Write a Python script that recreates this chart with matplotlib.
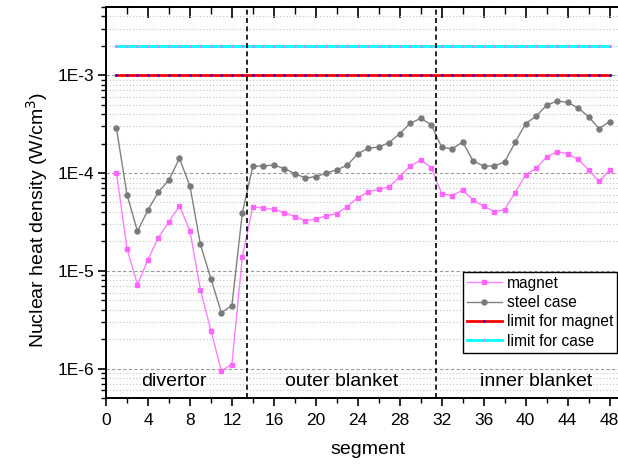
import math
import matplotlib
matplotlib.use("Agg")
import matplotlib.pyplot as plt
from matplotlib.ticker import LogLocator, MultipleLocator, NullFormatter, FixedLocator

plt.rcParams['font.family'] = ['Liberation Sans', 'DejaVu Sans']

# segments 1..48
segment = list(range(1, 49))

magnet = [1.01e-4, 1.69e-5, 7.2e-6, 1.30e-5, 2.19e-5, 3.19e-5, 4.61e-5, 2.58e-5,
          6.4e-6, 2.45e-6, 9.5e-7, 1.10e-6, 1.40e-5, 4.54e-5, 4.36e-5, 4.26e-5,
          3.94e-5, 3.59e-5, 3.27e-5, 3.37e-5, 3.67e-5, 3.85e-5, 4.54e-5, 5.61e-5,
          6.41e-5, 6.83e-5, 7.21e-5, 9.2e-5, 1.18e-4, 1.36e-4, 1.14e-4, 6.17e-5,
          5.88e-5, 6.67e-5, 5.31e-5, 4.58e-5, 4.04e-5, 4.23e-5, 6.31e-5, 9.57e-5,
          1.12e-4, 1.46e-4, 1.66e-4, 1.58e-4, 1.38e-4, 1.08e-4, 8.2e-5, 1.07e-4]

steel_case = [2.87e-4, 6.0e-5, 2.54e-5, 4.2e-5, 6.4e-5, 8.5e-5, 1.41e-4, 7.4e-5,
              1.86e-5, 8.3e-6, 3.74e-6, 4.4e-6, 3.94e-5, 1.18e-4, 1.18e-4, 1.21e-4,
              1.11e-4, 9.9e-5, 8.9e-5, 9.2e-5, 1.0e-4, 1.08e-4, 1.20e-4, 1.58e-4,
              1.79e-4, 1.85e-4, 2.05e-4, 2.53e-4, 3.23e-4, 3.63e-4, 3.13e-4, 1.84e-4,
              1.77e-4, 2.08e-4, 1.33e-4, 1.18e-4, 1.18e-4, 1.30e-4, 2.06e-4, 3.21e-4,
              3.81e-4, 4.94e-4, 5.46e-4, 5.29e-4, 4.64e-4, 3.78e-4, 2.85e-4, 3.36e-4]

limit_magnet = 1e-3
limit_case = 2e-3

region_names = ['divertor', 'outer blanket', 'inner blanket']
region_centers = [6.5, 22.5, 41.0]
region_borders = [13.4, 31.45]

fig = plt.figure(figsize=(6.18, 4.71), dpi=100)
# axes run slightly past the right edge of the figure, as in the original crop
ax = fig.add_axes([106/618, 73/471, 524.5/618, 391/471])

ax.set_yscale('log')
ax.set_xlim(0, 50)
ax.set_ylim(5e-7, 5e-3)

# grid lines
ax.grid(which='major', axis='y', color='#9a9a9a', linestyle=(0, (3, 2)), linewidth=0.8)
ax.grid(which='minor', axis='y', color='#c4c4c4', linestyle=(0, (1, 2)), linewidth=0.8)
ax.grid(which='both', axis='x', visible=False)

ax.plot(segment, magnet, color='#ff80ff', lw=1.0, marker='s', ms=3.2,
        mfc='#ff66ff', mec='#ff66ff', label='magnet', zorder=4)
ax.plot(segment, steel_case, color='#808080', lw=1.0, marker='o', ms=3.6,
        mfc='#7a7a7a', mec='#7a7a7a', label='steel case', zorder=4)
ax.plot(segment, [limit_magnet] * len(segment), color='red', lw=2.0, marker='s',
        ms=1.0, mfc='blue', mec='blue', mew=0.5, label='limit for magnet', zorder=3)
ax.plot(segment, [limit_case] * len(segment), color='cyan', lw=2.0, marker='s',
        ms=1.0, mfc='#ff66ff', mec='#ff66ff', mew=0.5, label='limit for case', zorder=3)

for b in region_borders:
    ax.axvline(b, color='black', lw=1.2, linestyle=(0, (3, 2)), zorder=5)

for name, xc in zip(region_names, region_centers):
    ax.text(xc, 7.4e-7, name, ha='center', va='center', fontsize=14, zorder=6)

# ticks
ax.xaxis.set_major_locator(MultipleLocator(4))
ax.xaxis.set_minor_locator(MultipleLocator(2))
ax.xaxis.set_major_formatter(plt.FuncFormatter(lambda v, p: '%d' % v if v <= 48 else ''))
ax.yaxis.set_major_locator(FixedLocator([1e-6, 1e-5, 1e-4, 1e-3]))
ax.yaxis.set_minor_locator(LogLocator(base=10, subs=range(2, 10)))
ax.yaxis.set_minor_formatter(NullFormatter())
ax.yaxis.set_major_formatter(plt.FuncFormatter(lambda v, p: '1E%d' % round(math.log10(v))))

ax.tick_params(axis='x', which='major', direction='out', length=6, width=1.2,
               labelsize=12.5, pad=5, top=False)
ax.tick_params(axis='x', which='minor', direction='out', length=3.5, width=1.0, top=False)
ax.tick_params(axis='y', which='major', direction='out', length=6, width=1.2,
               labelsize=12.5, pad=2.5, right=False)
ax.tick_params(axis='y', which='minor', direction='out', length=3.5, width=1.0, right=False)

sec = ax.secondary_xaxis('top')
sec.xaxis.set_major_locator(MultipleLocator(4))
sec.xaxis.set_minor_locator(MultipleLocator(2))
sec.tick_params(which='major', direction='in', length=8, width=1.2, labeltop=False)
sec.tick_params(which='minor', direction='in', length=5, width=1.0)

for s in ax.spines.values():
    s.set_linewidth(1.4)
sec.spines['top'].set_linewidth(1.4)

fig.text(368/618, 1 - 450/471, 'segment', ha='center', va='center', fontsize=14)
fig.text(37/618, 1 - 220/471, 'Nuclear heat density (W/cm$^3$)', ha='center',
         va='center', rotation=90, fontsize=14)

leg = ax.legend(loc='upper left', bbox_to_anchor=(462.7/618, 1 - 271.7/471),
                bbox_transform=fig.transFigure, fontsize=11.2, frameon=True,
                fancybox=False, framealpha=1, edgecolor='black', borderpad=0.25,
                labelspacing=0.28, handlelength=2.3, handletextpad=0.3,
                borderaxespad=0, numpoints=1)
leg.get_frame().set_linewidth(1.0)
leg.set_zorder(10)

fig.savefig('out.png', dpi=100)
